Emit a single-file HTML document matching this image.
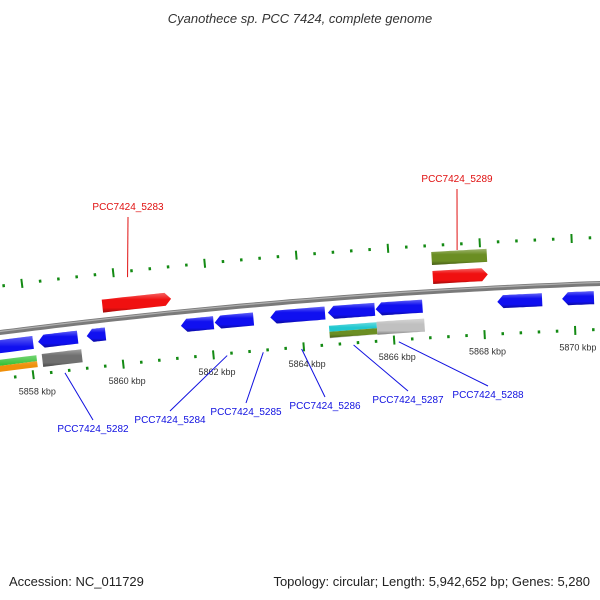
<!DOCTYPE html>
<html><head><meta charset="utf-8"><style>
html,body{margin:0;padding:0;background:#fff;width:600px;height:600px;overflow:hidden}
svg{display:block;font-family:"Liberation Sans",sans-serif}
</style></head><body>
<svg id="map" width="600" height="600" viewBox="0 0 600 600">
<text x="300" y="23" text-anchor="middle" font-size="13" font-style="italic" fill="#333">Cyanothece sp. PCC 7424, complete genome</text>
<text x="9" y="586" font-size="13" fill="#222">Accession: NC_011729</text>
<text x="590" y="586" text-anchor="end" font-size="13" fill="#222">Topology: circular; Length: 5,942,652 bp; Genes: 5,280</text>
<g id="layer"></g>
</svg>
<script>
// ---- data ----
const tickStart = 5856000;
const tickEnd = 5872000;
const majorStep = 2000;
const minorStep = 400;
const featStarts = [5855000,5858195,5859270,5861350,5862095,5863320,5864590,5865640,5868315,5869740,5859685,5866935,5866935,5855000,5858240,5864590,5865640];
const featEnds   = [5858085,5859070,5859685,5862070,5862950,5864525,5865620,5866670,5869300,5870440,5861195,5868140,5868140,5858120,5859115,5865640,5866690];
const featStrand = [-1,-1,-1,-1,-1,-1,-1,-1,-1,-1,1,1,0,0,0,0,0];
const featTrack  = [-1,-1,-1,-1,-1,-1,-1,-1,-1,-1,1,1,2,-2,-2,-2,-2];
const featColor  = ["#1010f0","#1010f0","#1010f0","#1010f0","#1010f0","#1010f0","#1010f0","#1010f0","#1010f0","#1010f0","#f01010","#f01010","#6b8e23","split:#30c030:#f0900a","#707070","split:#20c8d0:#6b8e23","#c0c0c0"];
const labelNames = ["PCC7424_5282","PCC7424_5283","PCC7424_5284","PCC7424_5285","PCC7424_5286","PCC7424_5287","PCC7424_5288","PCC7424_5289"];
const labelBp    = [5858700,5860300,5862300,5863100,5863950,5865100,5866100,5867500];
const labelColor = ["#1010e0","#e01010","#1010e0","#1010e0","#1010e0","#1010e0","#1010e0","#e01010"];
const labelX = [93,128,170,246,325,408,488,457];
const labelY = [432,210,423,415,409,403,398,182];

// ---- geometry ----
const R = 6500, a0 = -Math.atan(0.0817);
const Cx = 300 - R*Math.sin(a0), Cy = 301 + R*Math.cos(a0);
const REF = 5864000, K = 91.3/2000/R;
function P(bp, d){const a=a0+(bp-REF)*K, r=R+d;return [Cx+r*Math.sin(a), Cy-r*Math.cos(a)];}
const NS="http://www.w3.org/2000/svg";
const layer=document.getElementById('layer');
const defs=document.createElementNS(NS,'defs');layer.appendChild(defs);
function mk(t,attrs){const e=document.createElementNS(NS,t);for(const k in attrs)e.setAttribute(k,attrs[k]);return e;}
function arcPts(b1,b2,d,n){const pts=[];for(let i=0;i<=n;i++){pts.push(P(b1+(b2-b1)*i/n,d));}return pts;}

// backbone
let bb=arcPts(5855000,5873000,0,80).map((p,i)=>(i?'L':'M')+p[0].toFixed(1)+','+p[1].toFixed(1)).join('');
let e=mk('path',{d:bb,stroke:'#7a7a7a','stroke-width':5,fill:'none'});


layer.appendChild(e);
e=mk('path',{d:bb,stroke:'#b0b0b0','stroke-width':1.2,fill:'none',transform:'translate(0,-1)'});


layer.appendChild(e);

// ticks
for(let bp=tickStart; bp<=tickEnd; bp+=minorStep){
  const major = bp%majorStep===0;
  for(const ring of [46,-46]){
    const h = major?4.5:1.5;
    const p1=P(bp,ring-h), p2=P(bp,ring+h);
    const t=mk('line',{x1:p1[0],y1:p1[1],x2:p2[0],y2:p2[1],stroke:'#138a13','stroke-width':major?2:2.5});
    
    
    layer.appendChild(t);
  }
  if(major){
    const p=P(bp,-63);
    const tx=mk('text',{x:p[0]+2,y:p[1]+3,'text-anchor':'middle','font-size':9,fill:'#333'});
    tx.textContent=(bp/1000)+' kbp';
    
    
    layer.appendChild(tx);
  }
}

// features
function grad(id,c){
  const g=mk('linearGradient',{id:id,x1:0,y1:0,x2:0,y2:1});
  g.appendChild(mk('stop',{offset:'0','stop-color':'#fff','stop-opacity':0.35}));
  g.appendChild(mk('stop',{offset:'0.35','stop-color':'#fff','stop-opacity':0}));
  g.appendChild(mk('stop',{offset:'0.75','stop-color':'#000','stop-opacity':0}));
  g.appendChild(mk('stop',{offset:'1','stop-color':'#000','stop-opacity':0.35}));
  defs.appendChild(g);
}
grad('shade');
const trackD={1:14,2:33,'-1':-14,'-2':-33};
function shape(s,en,d,h,strand){
  const hb=6/91.3*2000;
  let b1=s,b2=en;
  if(strand===1)b2=en-hb; if(strand===-1)b1=s+hb;
  const top=arcPts(b1,b2,d+h/2,12), bot=arcPts(b2,b1,d-h/2,12);
  let pts=[...top];
  if(strand===1)pts.push(P(en,d));
  pts=pts.concat(bot);
  if(strand===-1)pts.push(P(s,d));
  return pts.map(p=>p[0].toFixed(1)+','+p[1].toFixed(1)).join(' ');
}
for(let i=0;i<featStarts.length;i++){
  const d=trackD[featTrack[i]], c=featColor[i];
  const g=mk('g',{});
  
  
  if(c.startsWith('split:')){
    const cs=c.split(':');
    g.appendChild(mk('polygon',{points:shape(featStarts[i],featEnds[i],d+3,6,0),fill:cs[1]}));
    g.appendChild(mk('polygon',{points:shape(featStarts[i],featEnds[i],d-3,6,0),fill:cs[2]}));
  } else {
    g.appendChild(mk('polygon',{points:shape(featStarts[i],featEnds[i],d,13,featStrand[i]),fill:c}));
  }
  g.appendChild(mk('polygon',{points:shape(featStarts[i],featEnds[i],d,13,featStrand[i]),fill:'url(#shade)'}));
  layer.appendChild(g);
}

// labels
for(let i=0;i<labelNames.length;i++){
  const outer = labelColor[i]==='#e01010';
  const p=P(labelBp[i], outer?40:-48);
  const ly = outer? labelY[i]+7 : labelY[i]-12;
  const ln=mk('line',{x1:p[0],y1:p[1],x2:labelX[i],y2:ly,stroke:labelColor[i],'stroke-width':1});
  
  
  layer.appendChild(ln);
  const t=mk('text',{x:labelX[i],y:labelY[i],'text-anchor':'middle','font-size':10,fill:labelColor[i]});
  t.textContent=labelNames[i];
  
  
  layer.appendChild(t);
}
</script>
</body></html>
